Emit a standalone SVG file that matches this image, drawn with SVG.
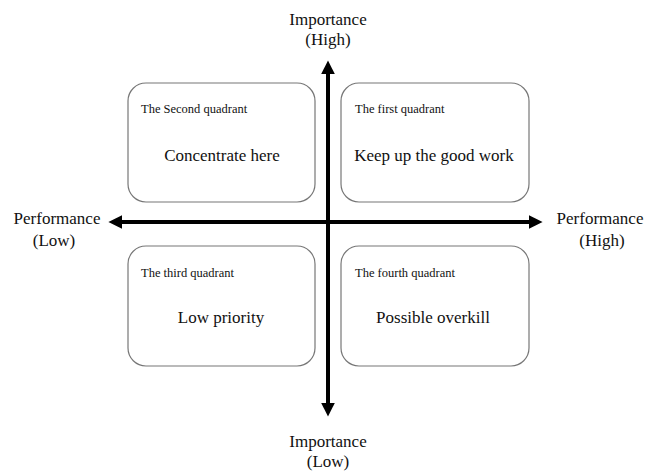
<svg xmlns="http://www.w3.org/2000/svg" width="654" height="473" viewBox="0 0 654 473" font-family="'Liberation Serif', 'Times New Roman', 'DejaVu Serif', serif">
<style>
text{font-family:'Liberation Serif','Times New Roman','DejaVu Serif',serif;fill:#111}
.ax{font-size:17px;text-anchor:middle}
.sm{font-size:12.5px}
.mn{font-size:17px;text-anchor:middle}
.box{fill:#fff;stroke:#777;stroke-width:1.2}
.axis{stroke:#000;stroke-width:4;fill:none}
</style>
<defs>
<marker id="ah" viewBox="0 0 10 10" refX="0" refY="5" markerWidth="4" markerHeight="3.4" orient="auto" markerUnits="strokeWidth">
<path d="M0,0 L10,5 L0,10 z" fill="#000"/>
</marker>
</defs>
<rect width="654" height="473" fill="#fff"/>
<g id="q2"><rect class="box" x="128" y="83" width="187" height="119" rx="18"/><text class="sm" x="141" y="113">The Second quadrant</text><text class="mn" x="222" y="161">Concentrate here</text></g>
<g id="q1"><rect class="box" x="341" y="83" width="188" height="119" rx="18"/><text class="sm" x="355" y="113">The first quadrant</text><text class="mn" x="434" y="161">Keep up the good work</text></g>
<g id="q3"><rect class="box" x="128" y="246" width="187" height="120" rx="18"/><text class="sm" x="141" y="277">The third quadrant</text><text class="mn" x="221" y="323">Low priority</text></g>
<g id="q4"><rect class="box" x="341" y="246" width="188" height="120" rx="18"/><text class="sm" x="355" y="277">The fourth quadrant</text><text class="mn" x="433" y="323">Possible overkill</text></g>
<g id="connectors">
<line class="axis" x1="328" y1="222" x2="328" y2="74" marker-end="url(#ah)"/>
<line class="axis" x1="328" y1="222" x2="328" y2="403" marker-end="url(#ah)"/>
<line class="axis" x1="328" y1="222" x2="122" y2="222" marker-end="url(#ah)"/>
<line class="axis" x1="328" y1="222" x2="529" y2="222" marker-end="url(#ah)"/>
</g>
<g id="labels">
<text class="ax" x="328" y="25">Importance</text>
<text class="ax" x="328" y="45">(High)</text>
<text class="ax" x="328" y="447">Importance</text>
<text class="ax" x="328" y="467">(Low)</text>
<text class="ax" x="57" y="224">Performance</text>
<text class="ax" x="54" y="246">(Low)</text>
<text class="ax" x="600" y="224">Performance</text>
<text class="ax" x="602" y="246">(High)</text>
</g>
</svg>
